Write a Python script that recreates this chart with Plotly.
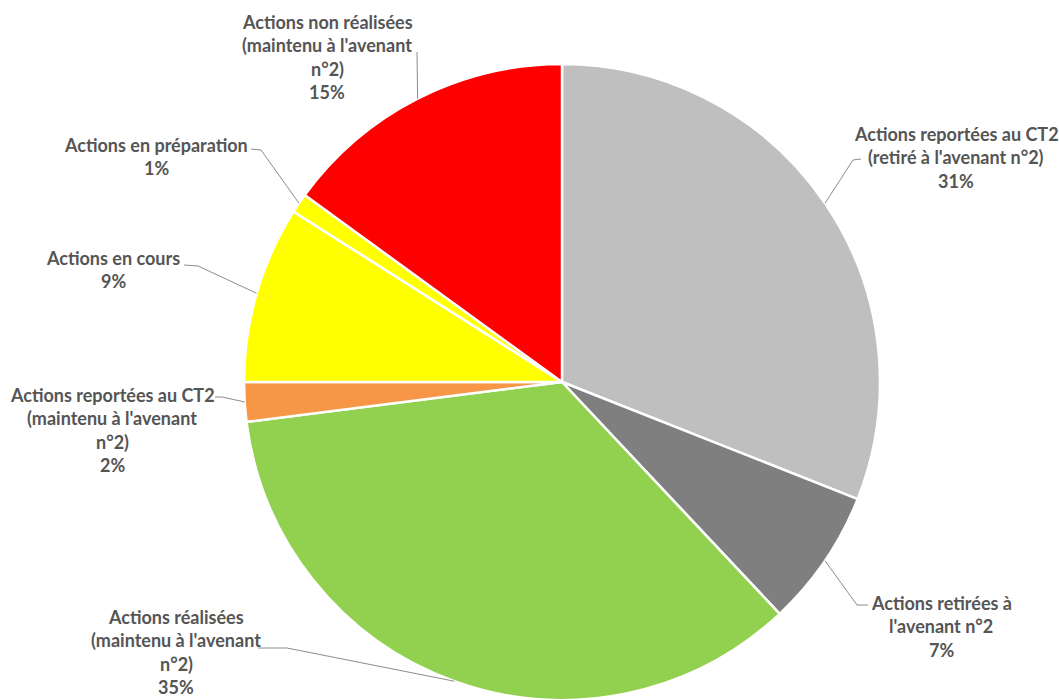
import math
import plotly.graph_objects as go

# Répartition des actions (en %), dans l'ordre horaire depuis midi
categories = [
    "Actions reportées au CT2 (retiré à l'avenant n°2)",
    "Actions retirées à l'avenant n°2",
    "Actions réalisées (maintenu à l'avenant n°2)",
    "Actions reportées au CT2 (maintenu à l'avenant n°2)",
    "Actions en cours",
    "Actions en préparation",
    "Actions non réalisées (maintenu à l'avenant n°2)",
]
values = [31, 7, 35, 2, 9, 1, 15]
colors = ["#BFBFBF", "#7F7F7F", "#92D050", "#F79646", "#FFFF00", "#FFFF00", "#FF0000"]

# Lignes des étiquettes (le pourcentage est ajouté depuis values)
label_lines = [
    ["Actions reportées au CT2", "(retiré à l'avenant n°2)"],
    ["Actions retirées à", "l'avenant n°2"],
    ["Actions réalisées", "(maintenu à l'avenant", "n°2)"],
    ["Actions reportées au CT2", "(maintenu à l'avenant", "n°2)"],
    ["Actions en cours"],
    ["Actions en préparation"],
    ["Actions non réalisées", "(maintenu à l'avenant", "n°2)"],
]

# Mise en page (pixels)
W, H = 1059, 700
CX, CY, R = 562, 382, 318
LINE_H = 23.3
# centre du texte (x, y de la première ligne) et départ du trait de rappel
label_pos = [(956, 134), (941, 603), (176, 617), (112, 395), (113, 258), (156, 145), (327, 22)]
leader_start = [
    [(861, 159), (853, 160)],
    [(868, 605), (857, 605)],
    [(258, 648), (287, 648)],
    [(215, 397), (222, 397)],
    [(184, 265), (198, 266)],
    [(251, 149), (261, 150)],
    [(417, 52)],
]

fig = go.Figure(go.Pie(
    labels=categories,
    values=values,
    sort=False,
    direction="clockwise",
    rotation=0,
    marker=dict(colors=colors, line=dict(color="white", width=2.5)),
    textinfo="none",
    hoverinfo="skip",
    showlegend=False,
    domain=dict(x=[(CX - R) / W, (CX + R) / W], y=[0, 1 - (CY - R) / H]),
))

def px(x, y):
    return x / W, 1 - y / H

total = sum(values)
cum = 0
shapes, annotations = [], []
for i, v in enumerate(values):
    mid = (cum + v / 2) / total
    cum += v
    ang = 2 * math.pi * mid
    ex, ey = CX + R * math.sin(ang), CY - R * math.cos(ang)
    pts = leader_start[i] + [(ex, ey)]
    path = ""
    for j, (x, y) in enumerate(pts):
        u, w = px(x, y)
        path += ("M " if j == 0 else " L ") + f"{u},{w}"
    shapes.append(dict(type="path", path=path, xref="paper", yref="paper",
                       line=dict(color="#8C8C8C", width=1)))
    lines = label_lines[i] + [f"{round(100 * v / total)}%"]
    lx, ly = label_pos[i]
    for k, t in enumerate(lines):
        u, w = px(lx, ly + k * LINE_H)
        annotations.append(dict(text=t, x=u, y=w, xref="paper", yref="paper",
                                xanchor="center", yanchor="middle", showarrow=False,
                                font=dict(family="Lato, 'Open Sans', sans-serif",
                                          size=18, color="#555555", weight="bold")))

fig.update_layout(
    width=W, height=H,
    margin=dict(l=0, r=0, t=0, b=0),
    paper_bgcolor="white",
    plot_bgcolor="white",
    shapes=shapes,
    annotations=annotations,
)

fig.write_html("out.html")
